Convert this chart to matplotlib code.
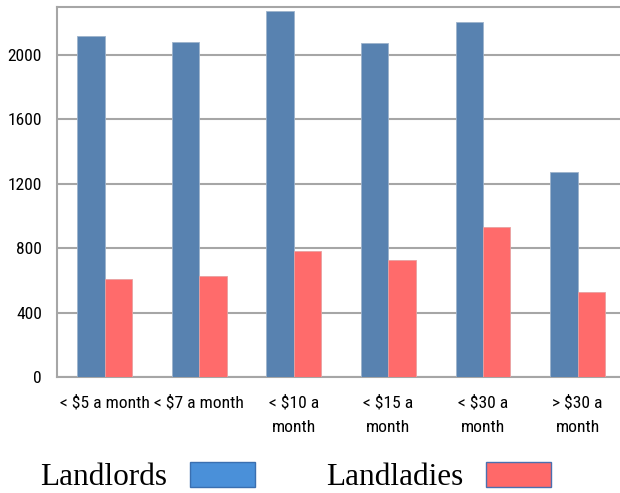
import matplotlib
matplotlib.use("Agg")
from matplotlib import pyplot as plt
from matplotlib import font_manager
from matplotlib.patches import Patch
import numpy as np

categories = ["< $5 a month", "< $7 a month", "< $10 a\nmonth",
              "< $15 a\nmonth", "< $30 a\nmonth", "> $30 a\nmonth"]
landlords = [2120, 2083, 2275, 2074, 2207, 1277]
landladies = [610, 629, 784, 729, 934, 530]
yticks = [0, 400, 800, 1200, 1600, 2000]

blue = "#5882B0"
red = "#FF6B6B"
grid_col = "#A6A6A6"

# pick a narrow sans if one is there, else shrink DejaVu a bit
have = {f.name for f in font_manager.fontManager.ttflist}
narrow = [n for n in ["Liberation Sans Narrow", "Roboto Condensed",
                      "Open Sans Condensed", "DejaVu Sans Condensed"] if n in have]
if narrow:
    tick_font = dict(family=[narrow[0], "DejaVu Sans"], fontsize=12.6)
else:
    tick_font = dict(family=["DejaVu Sans"], fontsize=10.5, fontstretch="condensed")

fig = plt.figure(figsize=(6.2, 4.93), dpi=100)
ax = fig.add_axes([0.0924, 0.2347, 0.9156, 0.7517])

x = np.arange(len(categories))
w = 0.289
ax.bar(x - w/2, landlords, w, color=blue, edgecolor="#9DB3CC", linewidth=0.6, zorder=3)
ax.bar(x + w/2, landladies, w, color=red, edgecolor="#E8A0A0", linewidth=0.6, zorder=3)

ax.set_xlim(-0.5, 5.5)
ax.set_ylim(0, 2300)
ax.set_yticks(yticks)
ax.set_yticklabels([str(v) for v in yticks], **tick_font)
ax.set_xticks(x)
ax.set_xticklabels(categories, linespacing=1.75, **tick_font)
ax.tick_params(axis="y", length=0, pad=11)
ax.tick_params(axis="x", length=0, pad=13)

ax.yaxis.grid(True, color=grid_col, linewidth=1.5, zorder=0)
ax.set_axisbelow(True)
for s in ax.spines.values():
    s.set_color(grid_col)
    s.set_linewidth(1.5)

handles = [Patch(facecolor="#4A90D9", edgecolor="#3A6FB0", linewidth=1),
           Patch(facecolor="#FF6969", edgecolor="#4A70B0", linewidth=1)]
fig.legend(handles, ["Landlords", "Landladies"], loc="center left",
           bbox_to_anchor=(40/620, 1 - 477/493), ncol=2, frameon=False,
           markerfirst=False, prop={"family": "Liberation Serif", "size": 22.5},
           handlelength=2.08, handleheight=0.85, handletextpad=0.72,
           columnspacing=2.3, borderpad=0, borderaxespad=0)

fig.savefig("out.png", dpi=100)
